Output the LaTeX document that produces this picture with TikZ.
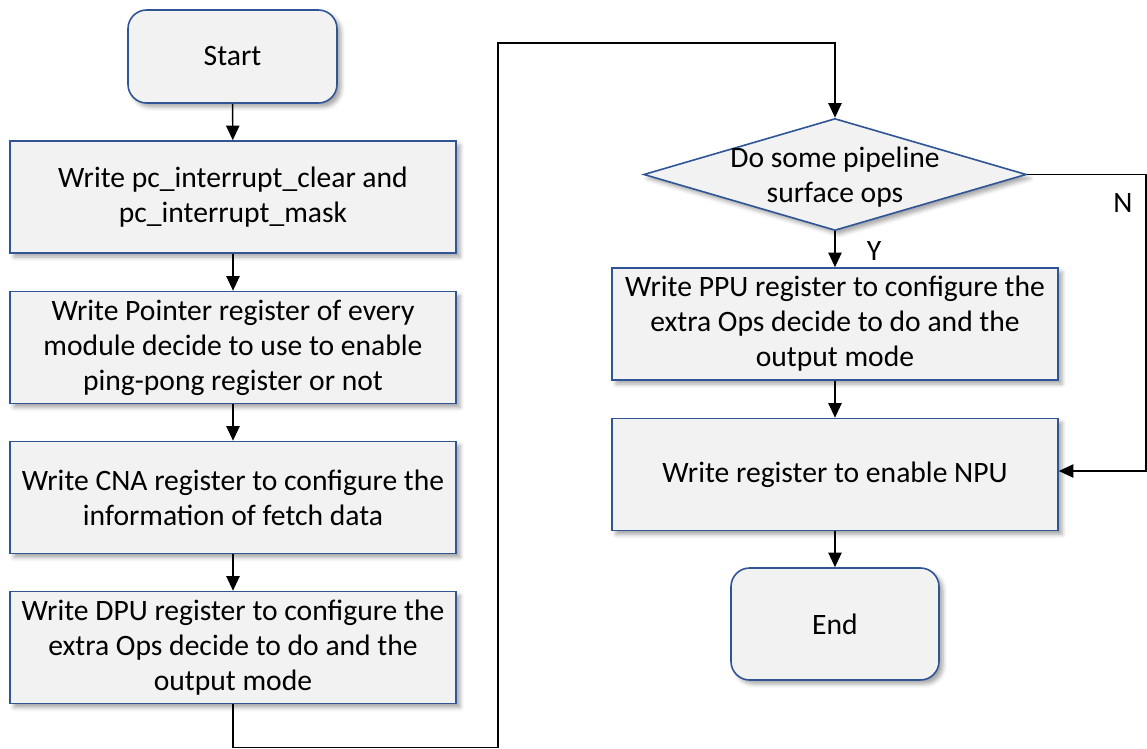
\documentclass[tikz,border=0pt]{standalone}
\usepackage{fontspec}
\setmainfont{Carlito}
\usetikzlibrary{arrows.meta,shapes.geometric,shadows.blur}
\definecolor{boxfill}{HTML}{F2F2F2}
\definecolor{boxline}{HTML}{2F5597}
\begin{document}
\begin{tikzpicture}[x=0.75pt,y=-0.75pt,
  base/.style={draw=boxline, line width=1.2pt, fill=boxfill, align=center,
    font=\fontsize{22.2}{26.3}\selectfont, inner sep=0pt,
    blur shadow={shadow xshift=3pt, shadow yshift=-3pt, shadow blur radius=3pt, shadow opacity=35}},
  procbox/.style={base, rectangle, minimum width=334.5pt, minimum height=84pt},
  termbox/.style={base, rectangle, rounded corners=14pt},
  decbox/.style={base, diamond, aspect=3.42, minimum width=287pt, minimum height=84pt,
    inner xsep=-25pt, inner ysep=-8pt},
  arr/.style={-{Triangle[length=11pt,width=10pt]}, line width=1.1pt, black},
  lbl/.style={font=\fontsize{22.2}{26.3}\selectfont, inner sep=0pt}
]
\useasboundingbox (0,0) rectangle (1147,749);

\node[termbox, minimum width=156.75pt, minimum height=69.75pt] (start) at (232.5,56.5) {Start};
\node[procbox] (b1) at (233,197) {Write pc\_interrupt\_clear and\\pc\_interrupt\_mask};
\node[procbox] (b2) at (233,347.5) {Write Pointer register of every\\module decide to use to enable\\ping-pong register or not};
\node[procbox] (b3) at (233,497.5) {Write CNA register to configure the\\information of fetch data};
\node[procbox] (b4) at (233,647.5) {Write DPU register to configure the\\extra Ops decide to do and the\\output mode};

\node[decbox] (dia) at (835,174.5) {\raisebox{-2.5pt}[\height][\depth]{\begin{tabular}{@{}c@{}}Do some pipeline\\[0pt]surface ops\end{tabular}}};
\node[procbox] (ppu) at (835,324) {Write PPU register to configure the\\extra Ops decide to do and the\\output mode};
\node[procbox] (npu) at (835,474.5) {Write register to enable NPU};
\node[termbox, minimum width=156pt, minimum height=84pt] (end) at (835,624) {End};

\draw[arr] (start) -- (b1);
\draw[arr] (b1) -- (b2);
\draw[arr] (b2) -- (b3);
\draw[arr] (b3) -- (b4);

\coordinate (c1) at (233,747.5);
\coordinate (c2) at (498,747.5);
\coordinate (c3) at (498,43);
\coordinate (c4) at (835,43);
\draw[arr] (b4.south) -- (c1) -- (c2) -- (c3) -- (c4) -- (dia.north);

\draw[arr] (dia.south) -- (ppu.north);
\draw[arr] (ppu) -- (npu);
\draw[arr] (npu) -- (end);

\coordinate (n1) at (1146,174.5);
\coordinate (n2) at (1146,471);
\draw[arr] (dia.east) -- (n1) -- (n2) -- (npu.east |- n2);

\node[lbl] (ylab) at (874,251) {Y};
\node[lbl] (nlab) at (1123,203) {N};
\end{tikzpicture}
\end{document}
